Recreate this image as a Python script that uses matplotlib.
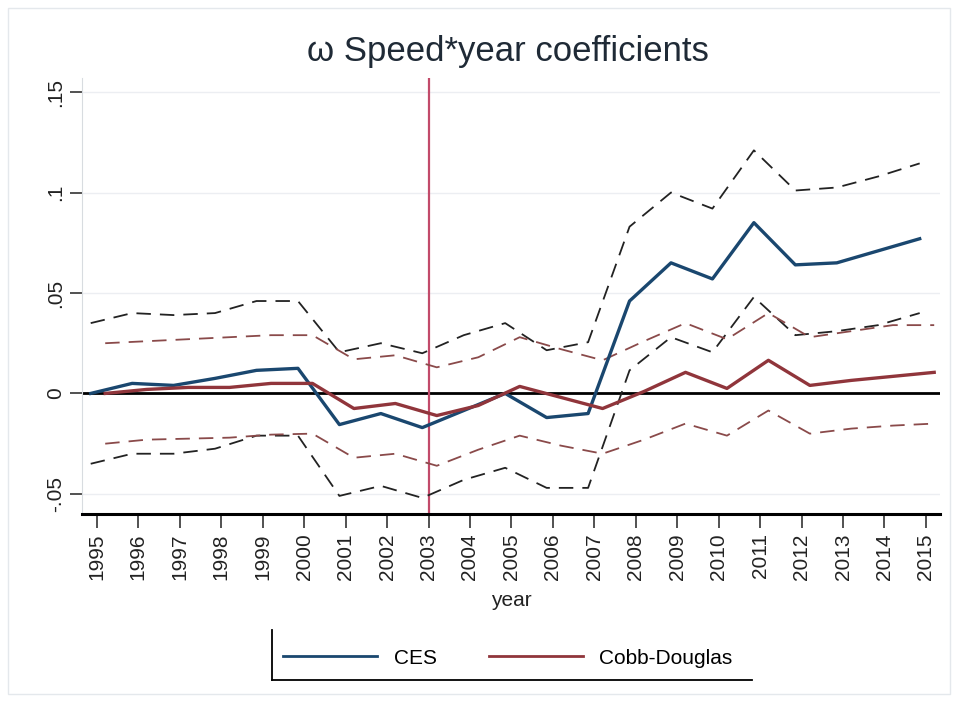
import numpy as np
import matplotlib
matplotlib.use("Agg")
import matplotlib.pyplot as plt
from matplotlib.lines import Line2D
from matplotlib.patches import Rectangle

plt.rcParams["font.family"] = ["Liberation Sans", "DejaVu Sans"]

years = list(range(1995, 2016))

ces = [0.0, 0.005, 0.004, 0.0075, 0.0115, 0.0125, -0.0155, -0.010, -0.017, -0.0085,
       0.0, -0.012, -0.010, 0.046, 0.065, 0.057, 0.085, 0.064, 0.065, 0.071, 0.077]
ces_hi = [0.035, 0.040, 0.039, 0.040, 0.046, 0.046, 0.0205, 0.025, 0.020, 0.029,
          0.035, 0.0215, 0.0255, 0.083, 0.100, 0.092, 0.121, 0.101, 0.1025, 0.108, 0.1145]
ces_lo = [-0.035, -0.030, -0.030, -0.0275, -0.021, -0.021, -0.051, -0.046, -0.052, -0.043,
          -0.037, -0.047, -0.047, 0.0115, 0.028, 0.0205, 0.048, 0.029, 0.031, 0.034, 0.040]

cd = [0.0, 0.002, 0.003, 0.003, 0.005, 0.005, -0.0075, -0.005, -0.011, -0.006,
      0.0035, -0.002, -0.0075, 0.001, 0.0105, 0.0025, 0.0165, 0.004, 0.0065, 0.0085, 0.0105]
cd_hi = [0.025, 0.026, 0.027, 0.028, 0.029, 0.029, 0.017, 0.019, 0.013, 0.018,
         0.028, 0.022, 0.0165, 0.026, 0.035, 0.027, 0.040, 0.028, 0.031, 0.034, 0.034]
cd_lo = [-0.025, -0.023, -0.0225, -0.022, -0.0205, -0.020, -0.032, -0.030, -0.036, -0.028,
         -0.021, -0.026, -0.030, -0.023, -0.015, -0.021, -0.0085, -0.020, -0.0175, -0.016, -0.015]

navy = "#1a476f"
maroon = "#90353b"

fig = plt.figure(figsize=(9.58, 7.02), dpi=100)
ax = fig.add_axes([82/958, 1 - 514/702, (940-82)/958, (514-78)/702])

x = np.array(years, dtype=float)
x_ces = x - 0.15
x_cd = x + 0.2

dash = (0, (8, 5))
ax.plot(x_ces, ces_hi, color="#222222", lw=1.3, ls=dash)
ax.plot(x_ces, ces_lo, color="#222222", lw=1.3, ls=dash)
ax.plot(x_cd, cd_hi, color="#8a4a4a", lw=1.3, ls=dash)
ax.plot(x_cd, cd_lo, color="#8a4a4a", lw=1.3, ls=dash)
ax.plot(x_ces, ces, color=navy, lw=2.4, label="CES")
ax.plot(x_cd, cd, color=maroon, lw=2.4, label="Cobb-Douglas")

ax.axhline(0, color="black", lw=2, zorder=1)
ax.axvline(2003, color="#c24a6a", lw=1.6, zorder=1)

ax.set_xlim(1994.64, 2015.34)
ax.set_ylim(-0.060, 0.157)
ax.set_yticks([-0.05, 0, 0.05, 0.1, 0.15])
ax.set_yticklabels(["-.05", "0", ".05", ".1", ".15"], rotation=90, va="center",
                   fontsize=15, color="#222222")
ax.set_xticks(years)
ax.set_xticklabels([str(y) for y in years], rotation=90, fontsize=15, color="#222222")
ax.grid(axis="y", color="#eceef2", lw=1)
ax.set_axisbelow(True)
for s in ["top", "right"]:
    ax.spines[s].set_visible(False)
ax.spines["left"].set_color("#d8dce0")
ax.spines["bottom"].set_linewidth(2.2)
ax.tick_params(axis="y", length=9, width=1.2, color="#333333", pad=3)
ax.tick_params(axis="x", length=10, width=1.2, color="#333333", pad=4)

ax.set_xlabel("year", fontsize=15, color="#222222", labelpad=8)
fig.text(508/958, 1 - 52/702, "\u03c9 Speed*year coefficients", ha="center", va="center",
         fontsize=25, color="#1f2a36")

# legend with only left and bottom borders, as in the reference
leg = fig.legend(handles=[Line2D([], [], color=navy, lw=2, label="CES"),
                          Line2D([], [], color=maroon, lw=2, label="Cobb-Douglas")],
                 loc="center", bbox_to_anchor=(508/958, 1 - 658/702), ncol=2,
                 frameon=False, fontsize=15, handlelength=4.5, columnspacing=2.5,
                 handletextpad=0.8)
fig.add_artist(Line2D([272/958, 272/958], [1 - 630/702, 1 - 680/702], color="black", lw=1.3))
fig.add_artist(Line2D([272/958, 752/958], [1 - 680/702, 1 - 680/702], color="black", lw=1.3))

# faint outer frame
fig.add_artist(Rectangle((8/958, 8/702), 942/958, 686/702, fill=False,
                         ec="#e4e8ec", lw=1, transform=fig.transFigure))

fig.savefig("out.png", dpi=100)
